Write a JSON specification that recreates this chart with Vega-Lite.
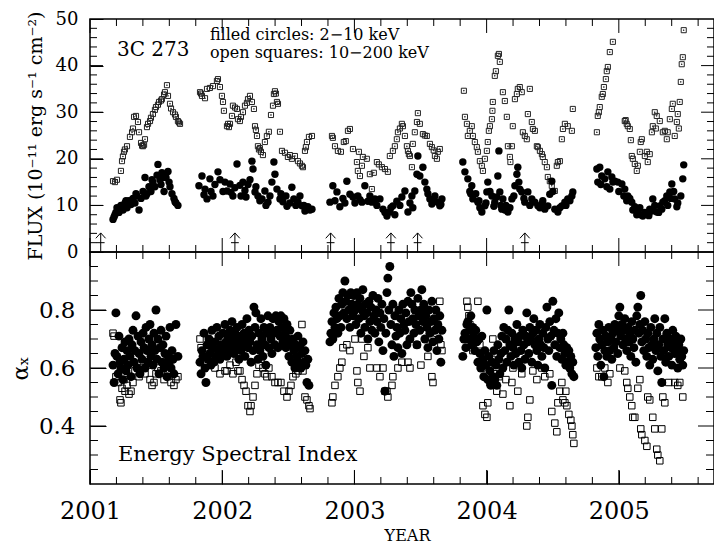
{
  "$schema": "https://vega.github.io/schema/vega-lite/v6.json",
  "padding": {"left": 8, "top": 9, "right": 0, "bottom": 0},
  "config": {
    "font": "DejaVu Serif",
    "view": {"stroke": "black", "strokeWidth": 1.5},
    "axis": {"grid": false, "domain": false, "tickColor": "black", "tickWidth": 1, "labelColor": "black", "titleColor": "black", "titleFontWeight": "normal", "labelFlush": false}
  },
  "datasets": {
    "xmaj": [{"t":2001},{"t":2002},{"t":2003},{"t":2004},{"t":2005}],
    "xmin": [{"t":2001.2},{"t":2001.4},{"t":2001.6},{"t":2001.8},{"t":2002.2},{"t":2002.4},{"t":2002.6},{"t":2002.8},{"t":2003.2},{"t":2003.4},{"t":2003.6},{"t":2003.8},{"t":2004.2},{"t":2004.4},{"t":2004.6},{"t":2004.8},{"t":2005.2},{"t":2005.4},{"t":2005.6}],
    "fmaj": [{"v":10},{"v":20},{"v":30},{"v":40}],
    "fmin": [{"v":2},{"v":4},{"v":6},{"v":8},{"v":12},{"v":14},{"v":16},{"v":18},{"v":22},{"v":24},{"v":26},{"v":28},{"v":32},{"v":34},{"v":36},{"v":38},{"v":42},{"v":44},{"v":46},{"v":48}],
    "amaj": [{"v":0.4},{"v":0.6},{"v":0.8}],
    "amin": [{"v":0.25},{"v":0.3},{"v":0.35},{"v":0.45},{"v":0.5},{"v":0.55},{"v":0.65},{"v":0.7},{"v":0.75},{"v":0.85},{"v":0.9},{"v":0.95}],
    "arrows": [{"t":2001.081},{"t":2002.096},{"t":2002.820},{"t":2003.276},{"t":2003.478},{"t":2004.289}],
    "soft_flux": [
      {"t":2001.174,"v":7.0},{"t":2001.182,"v":7.5},{"t":2001.189,"v":8.0},{"t":2001.196,"v":8.5},{"t":2001.204,"v":9.5},{"t":2001.219,"v":8.5},{"t":2001.227,"v":9.0},{"t":2001.234,"v":10.0},{"t":2001.250,"v":9.0},{"t":2001.265,"v":10.5},{"t":2001.272,"v":11.0},{"t":2001.280,"v":9.5},{"t":2001.295,"v":11.0},{"t":2001.310,"v":10.2},{"t":2001.325,"v":11.5},{"t":2001.340,"v":10.5},{"t":2001.348,"v":12.5},{"t":2001.355,"v":12.0},{"t":2001.371,"v":9.0},{"t":2001.386,"v":11.5},{"t":2001.401,"v":13.0},{"t":2001.416,"v":16.0},{"t":2001.423,"v":12.0},{"t":2001.431,"v":12.5},{"t":2001.446,"v":14.0},{"t":2001.461,"v":13.0},{"t":2001.469,"v":15.5},{"t":2001.476,"v":15.0},{"t":2001.491,"v":14.0},{"t":2001.507,"v":16.5},{"t":2001.514,"v":18.8},{"t":2001.529,"v":15.5},{"t":2001.537,"v":14.5},{"t":2001.544,"v":17.0},{"t":2001.552,"v":16.0},{"t":2001.560,"v":13.0},{"t":2001.575,"v":16.0},{"t":2001.590,"v":17.3},{"t":2001.598,"v":15.0},{"t":2001.605,"v":14.0},{"t":2001.620,"v":12.5},{"t":2001.635,"v":11.5},{"t":2001.643,"v":10.8},{"t":2001.650,"v":10.5},{"t":2001.665,"v":10.0},
      {"t":2001.824,"v":14.2},{"t":2001.847,"v":16.3},{"t":2001.862,"v":12.3},{"t":2001.870,"v":13.5},{"t":2001.885,"v":11.4},{"t":2001.907,"v":15.7},{"t":2001.915,"v":13.0},{"t":2001.930,"v":12.0},{"t":2001.945,"v":14.5},{"t":2001.968,"v":17.2},{"t":2001.983,"v":15.5},{"t":2002.006,"v":13.0},{"t":2002.021,"v":15.0},{"t":2002.036,"v":13.1},{"t":2002.059,"v":14.6},{"t":2002.066,"v":12.8},{"t":2002.081,"v":12.0},{"t":2002.096,"v":13.8},{"t":2002.112,"v":18.9},{"t":2002.134,"v":14.3},{"t":2002.142,"v":12.0},{"t":2002.157,"v":15.0},{"t":2002.172,"v":13.2},{"t":2002.180,"v":11.8},{"t":2002.195,"v":14.5},{"t":2002.210,"v":15.5},{"t":2002.225,"v":19.5},{"t":2002.233,"v":17.8},{"t":2002.248,"v":12.9},{"t":2002.255,"v":14.0},{"t":2002.270,"v":12.0},{"t":2002.285,"v":11.0},{"t":2002.301,"v":11.4},{"t":2002.323,"v":13.1},{"t":2002.331,"v":10.0},{"t":2002.346,"v":10.7},{"t":2002.361,"v":12.0},{"t":2002.376,"v":15.0},{"t":2002.391,"v":19.3},{"t":2002.399,"v":16.7},{"t":2002.414,"v":13.5},{"t":2002.437,"v":11.4},{"t":2002.444,"v":12.5},{"t":2002.459,"v":10.8},{"t":2002.482,"v":12.0},{"t":2002.490,"v":9.8},{"t":2002.512,"v":10.5},{"t":2002.527,"v":13.9},{"t":2002.542,"v":11.4},{"t":2002.557,"v":10.0},{"t":2002.573,"v":10.7},{"t":2002.588,"v":12.0},{"t":2002.603,"v":9.9},{"t":2002.618,"v":10.0},{"t":2002.626,"v":8.8},{"t":2002.648,"v":9.7},{"t":2002.664,"v":9.0},{"t":2002.679,"v":9.2},
      {"t":2002.815,"v":10.7},{"t":2002.837,"v":14.2},{"t":2002.853,"v":11.0},{"t":2002.868,"v":12.9},{"t":2002.890,"v":9.7},{"t":2002.913,"v":11.5},{"t":2002.928,"v":10.5},{"t":2002.943,"v":15.2},{"t":2002.966,"v":12.4},{"t":2002.989,"v":11.8},{"t":2003.004,"v":10.5},{"t":2003.026,"v":12.0},{"t":2003.042,"v":11.2},{"t":2003.057,"v":10.7},{"t":2003.079,"v":14.2},{"t":2003.102,"v":10.9},{"t":2003.117,"v":12.0},{"t":2003.132,"v":10.7},{"t":2003.155,"v":11.4},{"t":2003.170,"v":10.0},{"t":2003.193,"v":11.4},{"t":2003.216,"v":9.2},{"t":2003.231,"v":8.5},{"t":2003.246,"v":7.7},{"t":2003.268,"v":8.6},{"t":2003.276,"v":9.5},{"t":2003.291,"v":9.9},{"t":2003.306,"v":8.0},{"t":2003.321,"v":10.9},{"t":2003.344,"v":10.0},{"t":2003.359,"v":11.8},{"t":2003.382,"v":13.1},{"t":2003.405,"v":8.6},{"t":2003.420,"v":10.5},{"t":2003.435,"v":12.0},{"t":2003.442,"v":9.5},{"t":2003.457,"v":13.1},{"t":2003.473,"v":16.7},{"t":2003.480,"v":20.6},{"t":2003.495,"v":16.3},{"t":2003.518,"v":18.2},{"t":2003.533,"v":15.0},{"t":2003.548,"v":13.5},{"t":2003.556,"v":12.5},{"t":2003.571,"v":11.4},{"t":2003.586,"v":10.3},{"t":2003.600,"v":11.0},{"t":2003.609,"v":12.0},{"t":2003.631,"v":10.7},{"t":2003.646,"v":9.9},{"t":2003.654,"v":10.2},{"t":2003.662,"v":11.4},
      {"t":2003.820,"v":19.3},{"t":2003.836,"v":17.2},{"t":2003.858,"v":15.7},{"t":2003.873,"v":13.0},{"t":2003.880,"v":12.5},{"t":2003.888,"v":14.2},{"t":2003.896,"v":11.4},{"t":2003.918,"v":12.5},{"t":2003.934,"v":10.7},{"t":2003.942,"v":11.0},{"t":2003.949,"v":9.5},{"t":2003.964,"v":8.6},{"t":2003.987,"v":9.9},{"t":2003.995,"v":10.5},{"t":2004.002,"v":12.9},{"t":2004.009,"v":15.0},{"t":2004.025,"v":13.0},{"t":2004.040,"v":12.0},{"t":2004.055,"v":9.8},{"t":2004.062,"v":10.7},{"t":2004.077,"v":11.8},{"t":2004.085,"v":16.3},{"t":2004.093,"v":21.7},{"t":2004.100,"v":12.9},{"t":2004.108,"v":10.0},{"t":2004.115,"v":9.2},{"t":2004.123,"v":11.4},{"t":2004.138,"v":9.0},{"t":2004.146,"v":10.0},{"t":2004.161,"v":8.6},{"t":2004.176,"v":9.5},{"t":2004.191,"v":11.4},{"t":2004.206,"v":12.0},{"t":2004.214,"v":14.2},{"t":2004.229,"v":16.7},{"t":2004.236,"v":18.2},{"t":2004.244,"v":15.0},{"t":2004.251,"v":13.5},{"t":2004.266,"v":12.9},{"t":2004.282,"v":11.5},{"t":2004.289,"v":10.7},{"t":2004.312,"v":12.9},{"t":2004.327,"v":10.0},{"t":2004.342,"v":11.4},{"t":2004.365,"v":10.7},{"t":2004.388,"v":9.9},{"t":2004.403,"v":9.5},{"t":2004.418,"v":10.3},{"t":2004.425,"v":11.0},{"t":2004.440,"v":9.2},{"t":2004.463,"v":9.9},{"t":2004.478,"v":12.4},{"t":2004.493,"v":15.2},{"t":2004.501,"v":13.0},{"t":2004.516,"v":9.2},{"t":2004.539,"v":8.6},{"t":2004.554,"v":9.5},{"t":2004.569,"v":9.9},{"t":2004.592,"v":10.7},{"t":2004.600,"v":10.0},{"t":2004.614,"v":11.4},{"t":2004.630,"v":11.0},{"t":2004.645,"v":12.0},{"t":2004.652,"v":12.9},
      {"t":2004.834,"v":17.8},{"t":2004.841,"v":15.0},{"t":2004.856,"v":18.2},{"t":2004.864,"v":14.5},{"t":2004.871,"v":16.3},{"t":2004.894,"v":15.7},{"t":2004.909,"v":14.0},{"t":2004.917,"v":17.2},{"t":2004.932,"v":13.5},{"t":2004.947,"v":16.1},{"t":2004.955,"v":15.0},{"t":2004.970,"v":15.2},{"t":2004.992,"v":15.0},{"t":2005.000,"v":13.0},{"t":2005.023,"v":14.6},{"t":2005.038,"v":12.0},{"t":2005.045,"v":13.5},{"t":2005.060,"v":11.0},{"t":2005.068,"v":12.0},{"t":2005.083,"v":11.5},{"t":2005.098,"v":10.7},{"t":2005.106,"v":9.0},{"t":2005.121,"v":9.7},{"t":2005.136,"v":8.0},{"t":2005.144,"v":8.6},{"t":2005.159,"v":9.5},{"t":2005.166,"v":8.0},{"t":2005.181,"v":7.7},{"t":2005.197,"v":8.5},{"t":2005.212,"v":8.2},{"t":2005.227,"v":7.8},{"t":2005.234,"v":9.2},{"t":2005.250,"v":8.8},{"t":2005.257,"v":11.4},{"t":2005.272,"v":10.0},{"t":2005.287,"v":8.6},{"t":2005.302,"v":8.5},{"t":2005.310,"v":9.9},{"t":2005.325,"v":9.2},{"t":2005.333,"v":10.7},{"t":2005.348,"v":11.0},{"t":2005.363,"v":12.0},{"t":2005.370,"v":10.0},{"t":2005.386,"v":12.9},{"t":2005.393,"v":11.5},{"t":2005.401,"v":14.6},{"t":2005.415,"v":13.0},{"t":2005.423,"v":11.4},{"t":2005.439,"v":9.7},{"t":2005.446,"v":10.5},{"t":2005.469,"v":12.0},{"t":2005.484,"v":15.7},{"t":2005.491,"v":18.7}
    ],
    "hard_flux": [
      {"t":2001.174,"v":15.2},{"t":2001.189,"v":15.0},{"t":2001.204,"v":15.5},{"t":2001.234,"v":17.4},{"t":2001.242,"v":19.5},{"t":2001.249,"v":20.5},{"t":2001.257,"v":21.5},{"t":2001.264,"v":22.0},{"t":2001.280,"v":22.7},{"t":2001.302,"v":24.7},{"t":2001.318,"v":25.7},{"t":2001.325,"v":26.5},{"t":2001.333,"v":29.0},{"t":2001.348,"v":29.2},{"t":2001.363,"v":27.9},{"t":2001.371,"v":25.7},{"t":2001.386,"v":23.4},{"t":2001.394,"v":22.8},{"t":2001.401,"v":22.7},{"t":2001.409,"v":23.0},{"t":2001.416,"v":24.2},{"t":2001.431,"v":26.8},{"t":2001.439,"v":27.5},{"t":2001.454,"v":28.1},{"t":2001.461,"v":28.8},{"t":2001.476,"v":29.6},{"t":2001.491,"v":30.5},{"t":2001.499,"v":31.1},{"t":2001.514,"v":31.6},{"t":2001.522,"v":32.2},{"t":2001.537,"v":32.5},{"t":2001.544,"v":32.8},{"t":2001.560,"v":33.8},{"t":2001.567,"v":34.3},{"t":2001.582,"v":35.8},{"t":2001.590,"v":33.5},{"t":2001.605,"v":31.8},{"t":2001.613,"v":30.8},{"t":2001.628,"v":30.0},{"t":2001.643,"v":29.5},{"t":2001.650,"v":29.0},{"t":2001.665,"v":28.1},{"t":2001.673,"v":27.8},{"t":2001.681,"v":27.5},
      {"t":2001.832,"v":34.3},{"t":2001.840,"v":34.0},{"t":2001.847,"v":33.5},{"t":2001.870,"v":33.0},{"t":2001.885,"v":35.0},{"t":2001.907,"v":35.2},{"t":2001.930,"v":35.6},{"t":2001.960,"v":36.7},{"t":2001.968,"v":37.1},{"t":2001.983,"v":35.4},{"t":2001.998,"v":33.5},{"t":2002.006,"v":32.2},{"t":2002.013,"v":30.3},{"t":2002.036,"v":27.0},{"t":2002.044,"v":27.5},{"t":2002.051,"v":26.8},{"t":2002.059,"v":27.5},{"t":2002.074,"v":29.2},{"t":2002.081,"v":31.4},{"t":2002.097,"v":31.0},{"t":2002.112,"v":30.7},{"t":2002.119,"v":28.5},{"t":2002.134,"v":28.1},{"t":2002.142,"v":29.0},{"t":2002.157,"v":30.0},{"t":2002.172,"v":31.4},{"t":2002.187,"v":32.0},{"t":2002.195,"v":32.8},{"t":2002.210,"v":33.5},{"t":2002.225,"v":32.2},{"t":2002.240,"v":30.7},{"t":2002.248,"v":27.0},{"t":2002.255,"v":26.2},{"t":2002.263,"v":24.9},{"t":2002.270,"v":22.7},{"t":2002.278,"v":22.0},{"t":2002.285,"v":22.3},{"t":2002.293,"v":21.5},{"t":2002.308,"v":20.8},{"t":2002.323,"v":23.6},{"t":2002.338,"v":24.9},{"t":2002.353,"v":25.8},{"t":2002.369,"v":29.4},{"t":2002.384,"v":31.4},{"t":2002.391,"v":33.9},{"t":2002.399,"v":34.5},{"t":2002.406,"v":34.0},{"t":2002.414,"v":32.2},{"t":2002.422,"v":31.8},{"t":2002.437,"v":25.8},{"t":2002.452,"v":21.7},{"t":2002.475,"v":21.3},{"t":2002.497,"v":20.4},{"t":2002.512,"v":20.8},{"t":2002.527,"v":20.0},{"t":2002.550,"v":20.6},{"t":2002.573,"v":19.5},{"t":2002.588,"v":19.0},{"t":2002.603,"v":18.5},{"t":2002.611,"v":18.2},{"t":2002.626,"v":21.7},{"t":2002.633,"v":22.5},{"t":2002.641,"v":23.6},{"t":2002.656,"v":24.7},{"t":2002.679,"v":24.9},
      {"t":2002.830,"v":24.9},{"t":2002.837,"v":24.5},{"t":2002.853,"v":22.7},{"t":2002.875,"v":21.7},{"t":2002.898,"v":21.5},{"t":2002.920,"v":23.6},{"t":2002.935,"v":23.8},{"t":2002.951,"v":26.0},{"t":2002.966,"v":26.4},{"t":2002.989,"v":22.1},{"t":2003.019,"v":19.3},{"t":2003.026,"v":17.4},{"t":2003.034,"v":21.5},{"t":2003.042,"v":16.3},{"t":2003.057,"v":18.5},{"t":2003.064,"v":20.4},{"t":2003.094,"v":20.0},{"t":2003.117,"v":16.7},{"t":2003.132,"v":13.5},{"t":2003.147,"v":17.0},{"t":2003.170,"v":19.3},{"t":2003.185,"v":18.8},{"t":2003.208,"v":18.2},{"t":2003.231,"v":17.8},{"t":2003.253,"v":17.2},{"t":2003.268,"v":20.6},{"t":2003.291,"v":21.7},{"t":2003.306,"v":22.7},{"t":2003.321,"v":24.2},{"t":2003.329,"v":25.7},{"t":2003.344,"v":26.5},{"t":2003.359,"v":27.5},{"t":2003.367,"v":27.0},{"t":2003.382,"v":24.9},{"t":2003.397,"v":22.7},{"t":2003.405,"v":21.7},{"t":2003.412,"v":21.0},{"t":2003.420,"v":20.6},{"t":2003.435,"v":18.2},{"t":2003.442,"v":23.2},{"t":2003.457,"v":25.7},{"t":2003.473,"v":27.9},{"t":2003.480,"v":29.8},{"t":2003.495,"v":27.5},{"t":2003.518,"v":25.3},{"t":2003.533,"v":25.0},{"t":2003.548,"v":24.9},{"t":2003.571,"v":23.2},{"t":2003.586,"v":22.5},{"t":2003.600,"v":21.8},{"t":2003.609,"v":20.6},{"t":2003.624,"v":20.0},{"t":2003.631,"v":21.5},{"t":2003.646,"v":22.1},
      {"t":2003.828,"v":34.6},{"t":2003.836,"v":29.0},{"t":2003.851,"v":27.5},{"t":2003.858,"v":24.9},{"t":2003.873,"v":26.0},{"t":2003.888,"v":27.0},{"t":2003.896,"v":24.9},{"t":2003.911,"v":23.6},{"t":2003.926,"v":22.5},{"t":2003.934,"v":21.5},{"t":2003.949,"v":19.5},{"t":2003.964,"v":18.5},{"t":2003.972,"v":17.4},{"t":2003.987,"v":20.0},{"t":2004.002,"v":21.7},{"t":2004.009,"v":23.6},{"t":2004.017,"v":26.0},{"t":2004.025,"v":27.0},{"t":2004.040,"v":28.5},{"t":2004.044,"v":30.3},{"t":2004.047,"v":32.2},{"t":2004.062,"v":37.8},{"t":2004.070,"v":38.8},{"t":2004.085,"v":42.1},{"t":2004.093,"v":42.5},{"t":2004.100,"v":40.8},{"t":2004.123,"v":34.3},{"t":2004.138,"v":32.4},{"t":2004.153,"v":29.0},{"t":2004.161,"v":22.7},{"t":2004.176,"v":20.4},{"t":2004.180,"v":19.3},{"t":2004.191,"v":22.7},{"t":2004.198,"v":27.0},{"t":2004.214,"v":32.8},{"t":2004.229,"v":33.9},{"t":2004.236,"v":35.0},{"t":2004.251,"v":35.4},{"t":2004.266,"v":34.3},{"t":2004.274,"v":25.7},{"t":2004.289,"v":24.9},{"t":2004.304,"v":24.2},{"t":2004.312,"v":29.6},{"t":2004.327,"v":35.0},{"t":2004.342,"v":27.9},{"t":2004.350,"v":26.4},{"t":2004.365,"v":26.0},{"t":2004.380,"v":22.7},{"t":2004.388,"v":22.5},{"t":2004.403,"v":21.7},{"t":2004.418,"v":21.0},{"t":2004.425,"v":20.4},{"t":2004.440,"v":19.3},{"t":2004.456,"v":18.2},{"t":2004.463,"v":16.1},{"t":2004.478,"v":15.2},{"t":2004.493,"v":14.2},{"t":2004.516,"v":13.1},{"t":2004.531,"v":18.5},{"t":2004.539,"v":19.3},{"t":2004.554,"v":19.5},{"t":2004.569,"v":24.2},{"t":2004.577,"v":26.4},{"t":2004.592,"v":27.5},{"t":2004.614,"v":27.0},{"t":2004.645,"v":26.0},{"t":2004.652,"v":30.7},
      {"t":2004.834,"v":25.7},{"t":2004.841,"v":29.2},{"t":2004.849,"v":30.0},{"t":2004.856,"v":31.1},{"t":2004.871,"v":33.3},{"t":2004.879,"v":33.9},{"t":2004.887,"v":35.4},{"t":2004.902,"v":37.1},{"t":2004.909,"v":38.8},{"t":2004.917,"v":39.7},{"t":2004.932,"v":42.9},{"t":2004.955,"v":45.1},{"t":2005.045,"v":28.1},{"t":2005.052,"v":28.3},{"t":2005.060,"v":27.5},{"t":2005.068,"v":27.0},{"t":2005.083,"v":26.4},{"t":2005.091,"v":24.0},{"t":2005.098,"v":20.6},{"t":2005.106,"v":20.0},{"t":2005.121,"v":18.9},{"t":2005.136,"v":17.4},{"t":2005.144,"v":18.5},{"t":2005.159,"v":21.5},{"t":2005.166,"v":23.6},{"t":2005.174,"v":24.2},{"t":2005.197,"v":20.6},{"t":2005.212,"v":21.5},{"t":2005.219,"v":19.3},{"t":2005.234,"v":21.0},{"t":2005.250,"v":25.7},{"t":2005.257,"v":27.0},{"t":2005.272,"v":30.0},{"t":2005.280,"v":26.5},{"t":2005.287,"v":29.2},{"t":2005.310,"v":28.1},{"t":2005.333,"v":25.7},{"t":2005.348,"v":26.0},{"t":2005.363,"v":24.2},{"t":2005.370,"v":25.7},{"t":2005.386,"v":28.5},{"t":2005.401,"v":30.7},{"t":2005.408,"v":31.8},{"t":2005.423,"v":24.9},{"t":2005.439,"v":27.9},{"t":2005.446,"v":29.6},{"t":2005.454,"v":26.5},{"t":2005.461,"v":32.2},{"t":2005.469,"v":36.5},{"t":2005.476,"v":40.3},{"t":2005.484,"v":41.8},{"t":2005.491,"v":47.6}
    ],
    "soft_idx": [
      {"t":2001.174,"v":0.61},{"t":2001.182,"v":0.55},{"t":2001.189,"v":0.65},{"t":2001.196,"v":0.79},{"t":2001.204,"v":0.64},{"t":2001.212,"v":0.58},{"t":2001.219,"v":0.71},{"t":2001.227,"v":0.62},{"t":2001.234,"v":0.60},{"t":2001.242,"v":0.67},{"t":2001.249,"v":0.56},{"t":2001.257,"v":0.63},{"t":2001.265,"v":0.69},{"t":2001.272,"v":0.59},{"t":2001.280,"v":0.66},{"t":2001.287,"v":0.61},{"t":2001.295,"v":0.70},{"t":2001.302,"v":0.64},{"t":2001.310,"v":0.57},{"t":2001.318,"v":0.68},{"t":2001.325,"v":0.73},{"t":2001.333,"v":0.62},{"t":2001.340,"v":0.66},{"t":2001.348,"v":0.78},{"t":2001.355,"v":0.60},{"t":2001.363,"v":0.71},{"t":2001.371,"v":0.65},{"t":2001.378,"v":0.58},{"t":2001.386,"v":0.69},{"t":2001.394,"v":0.63},{"t":2001.401,"v":0.72},{"t":2001.409,"v":0.67},{"t":2001.416,"v":0.60},{"t":2001.424,"v":0.74},{"t":2001.431,"v":0.66},{"t":2001.439,"v":0.62},{"t":2001.446,"v":0.70},{"t":2001.454,"v":0.75},{"t":2001.461,"v":0.64},{"t":2001.469,"v":0.68},{"t":2001.476,"v":0.61},{"t":2001.484,"v":0.72},{"t":2001.491,"v":0.66},{"t":2001.499,"v":0.80},{"t":2001.507,"v":0.63},{"t":2001.514,"v":0.70},{"t":2001.522,"v":0.58},{"t":2001.529,"v":0.67},{"t":2001.537,"v":0.73},{"t":2001.544,"v":0.62},{"t":2001.552,"v":0.68},{"t":2001.560,"v":0.60},{"t":2001.567,"v":0.65},{"t":2001.575,"v":0.71},{"t":2001.582,"v":0.57},{"t":2001.590,"v":0.64},{"t":2001.598,"v":0.62},{"t":2001.605,"v":0.74},{"t":2001.613,"v":0.60},{"t":2001.620,"v":0.66},{"t":2001.628,"v":0.63},{"t":2001.635,"v":0.58},{"t":2001.650,"v":0.75},{"t":2001.665,"v":0.64},
      {"t":2001.832,"v":0.62},{"t":2001.840,"v":0.58},{"t":2001.847,"v":0.66},{"t":2001.855,"v":0.64},{"t":2001.862,"v":0.72},{"t":2001.870,"v":0.60},{"t":2001.877,"v":0.55},{"t":2001.885,"v":0.68},{"t":2001.892,"v":0.63},{"t":2001.900,"v":0.70},{"t":2001.907,"v":0.65},{"t":2001.915,"v":0.61},{"t":2001.922,"v":0.73},{"t":2001.930,"v":0.67},{"t":2001.937,"v":0.62},{"t":2001.945,"v":0.69},{"t":2001.953,"v":0.64},{"t":2001.960,"v":0.74},{"t":2001.968,"v":0.66},{"t":2001.975,"v":0.71},{"t":2001.983,"v":0.63},{"t":2001.990,"v":0.68},{"t":2001.998,"v":0.65},{"t":2002.006,"v":0.72},{"t":2002.013,"v":0.67},{"t":2002.021,"v":0.75},{"t":2002.028,"v":0.69},{"t":2002.036,"v":0.64},{"t":2002.044,"v":0.71},{"t":2002.051,"v":0.66},{"t":2002.059,"v":0.73},{"t":2002.066,"v":0.68},{"t":2002.074,"v":0.76},{"t":2002.081,"v":0.70},{"t":2002.089,"v":0.65},{"t":2002.097,"v":0.72},{"t":2002.104,"v":0.67},{"t":2002.112,"v":0.74},{"t":2002.119,"v":0.69},{"t":2002.127,"v":0.63},{"t":2002.134,"v":0.71},{"t":2002.142,"v":0.66},{"t":2002.150,"v":0.75},{"t":2002.157,"v":0.68},{"t":2002.165,"v":0.72},{"t":2002.172,"v":0.64},{"t":2002.180,"v":0.70},{"t":2002.187,"v":0.77},{"t":2002.195,"v":0.67},{"t":2002.202,"v":0.73},{"t":2002.210,"v":0.69},{"t":2002.218,"v":0.62},{"t":2002.225,"v":0.71},{"t":2002.233,"v":0.66},{"t":2002.240,"v":0.81},{"t":2002.248,"v":0.74},{"t":2002.255,"v":0.79},{"t":2002.263,"v":0.68},{"t":2002.270,"v":0.63},{"t":2002.278,"v":0.72},{"t":2002.285,"v":0.66},{"t":2002.293,"v":0.77},{"t":2002.301,"v":0.70},{"t":2002.308,"v":0.64},{"t":2002.316,"v":0.74},{"t":2002.323,"v":0.68},{"t":2002.331,"v":0.61},{"t":2002.338,"v":0.72},{"t":2002.346,"v":0.78},{"t":2002.353,"v":0.67},{"t":2002.361,"v":0.74},{"t":2002.369,"v":0.70},{"t":2002.376,"v":0.65},{"t":2002.384,"v":0.77},{"t":2002.391,"v":0.72},{"t":2002.399,"v":0.68},{"t":2002.406,"v":0.78},{"t":2002.414,"v":0.73},{"t":2002.422,"v":0.67},{"t":2002.429,"v":0.76},{"t":2002.437,"v":0.71},{"t":2002.444,"v":0.78},{"t":2002.452,"v":0.74},{"t":2002.459,"v":0.69},{"t":2002.467,"v":0.77},{"t":2002.475,"v":0.72},{"t":2002.482,"v":0.67},{"t":2002.490,"v":0.75},{"t":2002.497,"v":0.70},{"t":2002.505,"v":0.64},{"t":2002.512,"v":0.73},{"t":2002.520,"v":0.68},{"t":2002.527,"v":0.62},{"t":2002.535,"v":0.70},{"t":2002.542,"v":0.66},{"t":2002.550,"v":0.60},{"t":2002.557,"v":0.68},{"t":2002.565,"v":0.64},{"t":2002.573,"v":0.71},{"t":2002.580,"v":0.62},{"t":2002.588,"v":0.67},{"t":2002.595,"v":0.60},{"t":2002.603,"v":0.65},{"t":2002.611,"v":0.69},{"t":2002.618,"v":0.62},{"t":2002.626,"v":0.66},{"t":2002.633,"v":0.61},{"t":2002.641,"v":0.55},{"t":2002.648,"v":0.63},{"t":2002.656,"v":0.54},
      {"t":2002.815,"v":0.69},{"t":2002.822,"v":0.72},{"t":2002.830,"v":0.76},{"t":2002.837,"v":0.70},{"t":2002.845,"v":0.79},{"t":2002.853,"v":0.74},{"t":2002.860,"v":0.81},{"t":2002.868,"v":0.77},{"t":2002.875,"v":0.72},{"t":2002.883,"v":0.84},{"t":2002.890,"v":0.78},{"t":2002.898,"v":0.74},{"t":2002.905,"v":0.82},{"t":2002.913,"v":0.86},{"t":2002.920,"v":0.79},{"t":2002.928,"v":0.90},{"t":2002.935,"v":0.83},{"t":2002.943,"v":0.77},{"t":2002.951,"v":0.85},{"t":2002.958,"v":0.80},{"t":2002.966,"v":0.74},{"t":2002.973,"v":0.86},{"t":2002.981,"v":0.82},{"t":2002.989,"v":0.78},{"t":2002.996,"v":0.85},{"t":2003.004,"v":0.80},{"t":2003.011,"v":0.75},{"t":2003.019,"v":0.86},{"t":2003.026,"v":0.82},{"t":2003.034,"v":0.77},{"t":2003.042,"v":0.84},{"t":2003.049,"v":0.72},{"t":2003.057,"v":0.80},{"t":2003.064,"v":0.87},{"t":2003.072,"v":0.78},{"t":2003.079,"v":0.74},{"t":2003.087,"v":0.82},{"t":2003.094,"v":0.79},{"t":2003.102,"v":0.70},{"t":2003.110,"v":0.83},{"t":2003.117,"v":0.76},{"t":2003.125,"v":0.81},{"t":2003.132,"v":0.73},{"t":2003.140,"v":0.85},{"t":2003.147,"v":0.78},{"t":2003.155,"v":0.72},{"t":2003.163,"v":0.80},{"t":2003.170,"v":0.76},{"t":2003.178,"v":0.84},{"t":2003.185,"v":0.69},{"t":2003.193,"v":0.79},{"t":2003.200,"v":0.74},{"t":2003.208,"v":0.82},{"t":2003.216,"v":0.66},{"t":2003.223,"v":0.77},{"t":2003.231,"v":0.52},{"t":2003.238,"v":0.72},{"t":2003.246,"v":0.86},{"t":2003.253,"v":0.91},{"t":2003.261,"v":0.80},{"t":2003.268,"v":0.95},{"t":2003.276,"v":0.75},{"t":2003.284,"v":0.68},{"t":2003.291,"v":0.82},{"t":2003.299,"v":0.64},{"t":2003.306,"v":0.78},{"t":2003.314,"v":0.71},{"t":2003.321,"v":0.74},{"t":2003.329,"v":0.67},{"t":2003.336,"v":0.80},{"t":2003.344,"v":0.72},{"t":2003.351,"v":0.77},{"t":2003.359,"v":0.65},{"t":2003.367,"v":0.82},{"t":2003.374,"v":0.75},{"t":2003.382,"v":0.73},{"t":2003.389,"v":0.79},{"t":2003.397,"v":0.68},{"t":2003.405,"v":0.83},{"t":2003.412,"v":0.76},{"t":2003.420,"v":0.70},{"t":2003.427,"v":0.86},{"t":2003.435,"v":0.82},{"t":2003.442,"v":0.77},{"t":2003.450,"v":0.72},{"t":2003.457,"v":0.80},{"t":2003.465,"v":0.75},{"t":2003.473,"v":0.68},{"t":2003.480,"v":0.84},{"t":2003.488,"v":0.78},{"t":2003.495,"v":0.73},{"t":2003.503,"v":0.80},{"t":2003.510,"v":0.87},{"t":2003.518,"v":0.76},{"t":2003.525,"v":0.82},{"t":2003.533,"v":0.70},{"t":2003.540,"v":0.78},{"t":2003.548,"v":0.74},{"t":2003.556,"v":0.67},{"t":2003.563,"v":0.80},{"t":2003.571,"v":0.72},{"t":2003.578,"v":0.76},{"t":2003.586,"v":0.83},{"t":2003.594,"v":0.69},{"t":2003.601,"v":0.77},{"t":2003.609,"v":0.73},{"t":2003.616,"v":0.80},{"t":2003.624,"v":0.66},{"t":2003.631,"v":0.75},{"t":2003.639,"v":0.70},{"t":2003.646,"v":0.78},{"t":2003.654,"v":0.62},{"t":2003.662,"v":0.73},
      {"t":2003.820,"v":0.64},{"t":2003.828,"v":0.70},{"t":2003.836,"v":0.72},{"t":2003.843,"v":0.67},{"t":2003.851,"v":0.75},{"t":2003.858,"v":0.76},{"t":2003.866,"v":0.70},{"t":2003.873,"v":0.73},{"t":2003.881,"v":0.78},{"t":2003.888,"v":0.68},{"t":2003.896,"v":0.74},{"t":2003.903,"v":0.71},{"t":2003.911,"v":0.66},{"t":2003.918,"v":0.73},{"t":2003.926,"v":0.69},{"t":2003.934,"v":0.62},{"t":2003.941,"v":0.70},{"t":2003.949,"v":0.65},{"t":2003.956,"v":0.60},{"t":2003.964,"v":0.71},{"t":2003.972,"v":0.63},{"t":2003.979,"v":0.57},{"t":2003.987,"v":0.66},{"t":2003.994,"v":0.61},{"t":2004.002,"v":0.80},{"t":2004.009,"v":0.56},{"t":2004.017,"v":0.64},{"t":2004.025,"v":0.59},{"t":2004.032,"v":0.54},{"t":2004.040,"v":0.62},{"t":2004.047,"v":0.57},{"t":2004.055,"v":0.66},{"t":2004.062,"v":0.56},{"t":2004.070,"v":0.61},{"t":2004.077,"v":0.54},{"t":2004.085,"v":0.68},{"t":2004.093,"v":0.63},{"t":2004.100,"v":0.58},{"t":2004.108,"v":0.65},{"t":2004.115,"v":0.71},{"t":2004.123,"v":0.60},{"t":2004.130,"v":0.74},{"t":2004.138,"v":0.66},{"t":2004.146,"v":0.70},{"t":2004.153,"v":0.62},{"t":2004.161,"v":0.73},{"t":2004.168,"v":0.80},{"t":2004.176,"v":0.68},{"t":2004.184,"v":0.64},{"t":2004.191,"v":0.72},{"t":2004.199,"v":0.67},{"t":2004.206,"v":0.61},{"t":2004.214,"v":0.70},{"t":2004.221,"v":0.65},{"t":2004.229,"v":0.75},{"t":2004.236,"v":0.69},{"t":2004.244,"v":0.62},{"t":2004.251,"v":0.71},{"t":2004.259,"v":0.66},{"t":2004.266,"v":0.60},{"t":2004.274,"v":0.73},{"t":2004.282,"v":0.68},{"t":2004.289,"v":0.63},{"t":2004.297,"v":0.71},{"t":2004.304,"v":0.79},{"t":2004.312,"v":0.69},{"t":2004.319,"v":0.65},{"t":2004.327,"v":0.74},{"t":2004.334,"v":0.70},{"t":2004.342,"v":0.62},{"t":2004.350,"v":0.72},{"t":2004.357,"v":0.77},{"t":2004.365,"v":0.68},{"t":2004.372,"v":0.73},{"t":2004.380,"v":0.66},{"t":2004.388,"v":0.61},{"t":2004.395,"v":0.70},{"t":2004.403,"v":0.75},{"t":2004.410,"v":0.68},{"t":2004.418,"v":0.64},{"t":2004.425,"v":0.72},{"t":2004.433,"v":0.67},{"t":2004.440,"v":0.60},{"t":2004.448,"v":0.74},{"t":2004.456,"v":0.81},{"t":2004.463,"v":0.70},{"t":2004.471,"v":0.66},{"t":2004.478,"v":0.76},{"t":2004.486,"v":0.71},{"t":2004.493,"v":0.54},{"t":2004.501,"v":0.83},{"t":2004.509,"v":0.73},{"t":2004.516,"v":0.68},{"t":2004.524,"v":0.77},{"t":2004.531,"v":0.64},{"t":2004.539,"v":0.72},{"t":2004.546,"v":0.79},{"t":2004.554,"v":0.67},{"t":2004.561,"v":0.70},{"t":2004.569,"v":0.63},{"t":2004.577,"v":0.72},{"t":2004.584,"v":0.68},{"t":2004.592,"v":0.65},{"t":2004.599,"v":0.61},{"t":2004.607,"v":0.67},{"t":2004.614,"v":0.62},{"t":2004.622,"v":0.66},{"t":2004.629,"v":0.60},{"t":2004.637,"v":0.64},{"t":2004.645,"v":0.58},{"t":2004.652,"v":0.62},{"t":2004.660,"v":0.57},
      {"t":2004.826,"v":0.67},{"t":2004.834,"v":0.72},{"t":2004.841,"v":0.64},{"t":2004.849,"v":0.75},{"t":2004.856,"v":0.70},{"t":2004.864,"v":0.61},{"t":2004.871,"v":0.68},{"t":2004.879,"v":0.73},{"t":2004.887,"v":0.57},{"t":2004.894,"v":0.66},{"t":2004.902,"v":0.71},{"t":2004.909,"v":0.64},{"t":2004.917,"v":0.69},{"t":2004.924,"v":0.74},{"t":2004.932,"v":0.66},{"t":2004.940,"v":0.70},{"t":2004.947,"v":0.63},{"t":2004.955,"v":0.72},{"t":2004.962,"v":0.67},{"t":2004.970,"v":0.75},{"t":2004.977,"v":0.69},{"t":2004.985,"v":0.73},{"t":2004.992,"v":0.65},{"t":2005.000,"v":0.78},{"t":2005.008,"v":0.81},{"t":2005.015,"v":0.71},{"t":2005.023,"v":0.75},{"t":2005.030,"v":0.68},{"t":2005.038,"v":0.73},{"t":2005.045,"v":0.77},{"t":2005.053,"v":0.70},{"t":2005.060,"v":0.66},{"t":2005.068,"v":0.74},{"t":2005.076,"v":0.69},{"t":2005.083,"v":0.72},{"t":2005.091,"v":0.64},{"t":2005.098,"v":0.76},{"t":2005.106,"v":0.70},{"t":2005.114,"v":0.67},{"t":2005.121,"v":0.73},{"t":2005.129,"v":0.62},{"t":2005.136,"v":0.78},{"t":2005.144,"v":0.81},{"t":2005.151,"v":0.72},{"t":2005.159,"v":0.75},{"t":2005.166,"v":0.85},{"t":2005.174,"v":0.69},{"t":2005.181,"v":0.73},{"t":2005.189,"v":0.66},{"t":2005.197,"v":0.76},{"t":2005.204,"v":0.70},{"t":2005.212,"v":0.64},{"t":2005.219,"v":0.72},{"t":2005.227,"v":0.67},{"t":2005.234,"v":0.61},{"t":2005.242,"v":0.74},{"t":2005.250,"v":0.68},{"t":2005.257,"v":0.63},{"t":2005.265,"v":0.70},{"t":2005.272,"v":0.77},{"t":2005.280,"v":0.66},{"t":2005.287,"v":0.72},{"t":2005.295,"v":0.59},{"t":2005.302,"v":0.68},{"t":2005.310,"v":0.74},{"t":2005.318,"v":0.64},{"t":2005.325,"v":0.55},{"t":2005.333,"v":0.70},{"t":2005.340,"v":0.66},{"t":2005.348,"v":0.77},{"t":2005.355,"v":0.62},{"t":2005.363,"v":0.72},{"t":2005.370,"v":0.68},{"t":2005.378,"v":0.64},{"t":2005.386,"v":0.70},{"t":2005.393,"v":0.67},{"t":2005.401,"v":0.61},{"t":2005.408,"v":0.73},{"t":2005.416,"v":0.69},{"t":2005.423,"v":0.65},{"t":2005.431,"v":0.71},{"t":2005.439,"v":0.66},{"t":2005.446,"v":0.60},{"t":2005.454,"v":0.68},{"t":2005.461,"v":0.63},{"t":2005.469,"v":0.70},{"t":2005.476,"v":0.64},{"t":2005.484,"v":0.61},{"t":2005.491,"v":0.66}
    ],
    "hard_idx": [
      {"t":2001.174,"v":0.72},{"t":2001.182,"v":0.71},{"t":2001.196,"v":0.57},{"t":2001.212,"v":0.55},{"t":2001.227,"v":0.49},{"t":2001.234,"v":0.48},{"t":2001.242,"v":0.53},{"t":2001.257,"v":0.56},{"t":2001.265,"v":0.52},{"t":2001.280,"v":0.54},{"t":2001.295,"v":0.51},{"t":2001.310,"v":0.52},{"t":2001.325,"v":0.55},{"t":2001.340,"v":0.59},{"t":2001.355,"v":0.61},{"t":2001.371,"v":0.57},{"t":2001.394,"v":0.60},{"t":2001.416,"v":0.58},{"t":2001.439,"v":0.61},{"t":2001.454,"v":0.56},{"t":2001.469,"v":0.54},{"t":2001.484,"v":0.55},{"t":2001.499,"v":0.58},{"t":2001.514,"v":0.60},{"t":2001.537,"v":0.59},{"t":2001.560,"v":0.56},{"t":2001.590,"v":0.57},{"t":2001.613,"v":0.55},{"t":2001.635,"v":0.54},{"t":2001.650,"v":0.56},{"t":2001.665,"v":0.57},
      {"t":2001.832,"v":0.70},{"t":2001.840,"v":0.67},{"t":2001.870,"v":0.66},{"t":2001.907,"v":0.64},{"t":2001.945,"v":0.60},{"t":2001.983,"v":0.58},{"t":2002.021,"v":0.59},{"t":2002.036,"v":0.59},{"t":2002.059,"v":0.61},{"t":2002.081,"v":0.58},{"t":2002.104,"v":0.62},{"t":2002.119,"v":0.59},{"t":2002.134,"v":0.59},{"t":2002.150,"v":0.56},{"t":2002.165,"v":0.54},{"t":2002.180,"v":0.52},{"t":2002.195,"v":0.47},{"t":2002.210,"v":0.45},{"t":2002.218,"v":0.47},{"t":2002.233,"v":0.50},{"t":2002.248,"v":0.54},{"t":2002.263,"v":0.58},{"t":2002.278,"v":0.61},{"t":2002.293,"v":0.63},{"t":2002.308,"v":0.60},{"t":2002.323,"v":0.58},{"t":2002.338,"v":0.57},{"t":2002.353,"v":0.60},{"t":2002.376,"v":0.57},{"t":2002.399,"v":0.55},{"t":2002.422,"v":0.55},{"t":2002.444,"v":0.55},{"t":2002.467,"v":0.52},{"t":2002.490,"v":0.50},{"t":2002.505,"v":0.52},{"t":2002.520,"v":0.54},{"t":2002.535,"v":0.57},{"t":2002.557,"v":0.58},{"t":2002.573,"v":0.59},{"t":2002.588,"v":0.60},{"t":2002.603,"v":0.75},{"t":2002.611,"v":0.59},{"t":2002.626,"v":0.50},{"t":2002.641,"v":0.49},{"t":2002.656,"v":0.47},{"t":2002.664,"v":0.46},
      {"t":2002.830,"v":0.48},{"t":2002.837,"v":0.50},{"t":2002.853,"v":0.54},{"t":2002.875,"v":0.57},{"t":2002.890,"v":0.60},{"t":2002.905,"v":0.62},{"t":2002.913,"v":0.67},{"t":2002.943,"v":0.68},{"t":2002.966,"v":0.66},{"t":2003.004,"v":0.70},{"t":2003.019,"v":0.59},{"t":2003.026,"v":0.55},{"t":2003.042,"v":0.52},{"t":2003.057,"v":0.70},{"t":2003.072,"v":0.64},{"t":2003.102,"v":0.67},{"t":2003.117,"v":0.60},{"t":2003.170,"v":0.60},{"t":2003.193,"v":0.57},{"t":2003.216,"v":0.60},{"t":2003.231,"v":0.52},{"t":2003.246,"v":0.52},{"t":2003.253,"v":0.50},{"t":2003.284,"v":0.54},{"t":2003.291,"v":0.57},{"t":2003.329,"v":0.60},{"t":2003.359,"v":0.62},{"t":2003.405,"v":0.62},{"t":2003.420,"v":0.60},{"t":2003.473,"v":0.68},{"t":2003.503,"v":0.61},{"t":2003.556,"v":0.64},{"t":2003.586,"v":0.57},{"t":2003.594,"v":0.55},{"t":2003.624,"v":0.72},{"t":2003.646,"v":0.83},{"t":2003.654,"v":0.68},{"t":2003.662,"v":0.66},
      {"t":2003.851,"v":0.83},{"t":2003.858,"v":0.81},{"t":2003.866,"v":0.78},{"t":2003.873,"v":0.75},{"t":2003.888,"v":0.72},{"t":2003.896,"v":0.66},{"t":2003.911,"v":0.69},{"t":2003.934,"v":0.83},{"t":2003.949,"v":0.68},{"t":2003.964,"v":0.60},{"t":2003.972,"v":0.47},{"t":2003.987,"v":0.44},{"t":2004.002,"v":0.43},{"t":2004.009,"v":0.48},{"t":2004.025,"v":0.55},{"t":2004.040,"v":0.63},{"t":2004.047,"v":0.70},{"t":2004.055,"v":0.58},{"t":2004.077,"v":0.52},{"t":2004.093,"v":0.57},{"t":2004.123,"v":0.51},{"t":2004.146,"v":0.56},{"t":2004.176,"v":0.47},{"t":2004.191,"v":0.55},{"t":2004.199,"v":0.60},{"t":2004.236,"v":0.52},{"t":2004.266,"v":0.58},{"t":2004.304,"v":0.40},{"t":2004.312,"v":0.43},{"t":2004.327,"v":0.49},{"t":2004.350,"v":0.59},{"t":2004.380,"v":0.56},{"t":2004.418,"v":0.60},{"t":2004.440,"v":0.57},{"t":2004.478,"v":0.58},{"t":2004.493,"v":0.45},{"t":2004.516,"v":0.41},{"t":2004.531,"v":0.38},{"t":2004.539,"v":0.48},{"t":2004.554,"v":0.52},{"t":2004.569,"v":0.55},{"t":2004.577,"v":0.49},{"t":2004.592,"v":0.48},{"t":2004.599,"v":0.52},{"t":2004.607,"v":0.47},{"t":2004.622,"v":0.44},{"t":2004.637,"v":0.42},{"t":2004.645,"v":0.40},{"t":2004.652,"v":0.37},{"t":2004.660,"v":0.34},
      {"t":2004.834,"v":0.60},{"t":2004.849,"v":0.57},{"t":2004.871,"v":0.57},{"t":2004.894,"v":0.60},{"t":2004.917,"v":0.55},{"t":2004.932,"v":0.58},{"t":2005.008,"v":0.60},{"t":2005.045,"v":0.59},{"t":2005.060,"v":0.55},{"t":2005.068,"v":0.53},{"t":2005.083,"v":0.50},{"t":2005.098,"v":0.47},{"t":2005.106,"v":0.43},{"t":2005.121,"v":0.43},{"t":2005.144,"v":0.53},{"t":2005.159,"v":0.56},{"t":2005.166,"v":0.39},{"t":2005.174,"v":0.37},{"t":2005.197,"v":0.35},{"t":2005.212,"v":0.33},{"t":2005.219,"v":0.50},{"t":2005.234,"v":0.49},{"t":2005.257,"v":0.43},{"t":2005.272,"v":0.39},{"t":2005.287,"v":0.32},{"t":2005.295,"v":0.30},{"t":2005.310,"v":0.28},{"t":2005.325,"v":0.39},{"t":2005.333,"v":0.50},{"t":2005.348,"v":0.48},{"t":2005.378,"v":0.55},{"t":2005.423,"v":0.55},{"t":2005.446,"v":0.54},{"t":2005.461,"v":0.55},{"t":2005.484,"v":0.50}
    ]
  },
  "spacing": 0,
  "bounds": "flush",
  "vconcat": [
    {
      "width": 624,
      "height": 233,
      "resolve": {"axis": {"x": "independent", "y": "independent"}},
      "layer": [
        {
          "data": {"name": "hard_flux"},
          "mark": {"type": "point", "shape": "M-1,-1H1V1H-1Z M-0.12,-0.12H0.12V0.12H-0.12Z", "size": 26, "filled": false, "stroke": "#222", "strokeWidth": 1, "opacity": 1},
          "encoding": {
            "x": {"field": "t", "type": "quantitative", "scale": {"domain": [2001, 2005.72], "nice": false, "zero": false}, "axis": null},
            "y": {"field": "v", "type": "quantitative", "scale": {"domain": [0, 50], "nice": false}, "axis": null}
          }
        },
        {
          "data": {"name": "soft_flux"},
          "mark": {"type": "circle", "size": 55, "color": "black", "opacity": 1},
          "encoding": {
            "x": {"field": "t", "type": "quantitative", "axis": null},
            "y": {"field": "v", "type": "quantitative", "axis": {"orient": "left", "tickSize": -13, "values": [0,10,20,30,40,50], "labelFontSize": 18, "labelPadding": 25, "title": "FLUX (10⁻¹¹ erg s⁻¹ cm⁻²)", "titleFontSize": 19, "titlePadding": 10}}
          }
        },
        {"data": {"name": "xmaj"}, "mark": {"type": "rule", "color": "black", "strokeWidth": 1}, "encoding": {"x": {"field": "t", "type": "quantitative", "axis": null}, "y": {"datum": 0, "type": "quantitative", "axis": null}, "y2": {"datum": 3.0}}},
        {"data": {"name": "xmaj"}, "mark": {"type": "rule", "color": "black", "strokeWidth": 1}, "encoding": {"x": {"field": "t", "type": "quantitative", "axis": null}, "y": {"datum": 50, "type": "quantitative", "axis": null}, "y2": {"datum": 47.0}}},
        {"data": {"name": "xmin"}, "mark": {"type": "rule", "color": "black", "strokeWidth": 1}, "encoding": {"x": {"field": "t", "type": "quantitative", "axis": null}, "y": {"datum": 0, "type": "quantitative", "axis": null}, "y2": {"datum": 1.5}}},
        {"data": {"name": "xmin"}, "mark": {"type": "rule", "color": "black", "strokeWidth": 1}, "encoding": {"x": {"field": "t", "type": "quantitative", "axis": null}, "y": {"datum": 50, "type": "quantitative", "axis": null}, "y2": {"datum": 48.5}}},
        {"data": {"name": "fmaj"}, "mark": {"type": "rule", "color": "black", "strokeWidth": 1}, "encoding": {"y": {"field": "v", "type": "quantitative", "axis": null}, "x": {"datum": 2001, "type": "quantitative", "axis": null}, "x2": {"datum": 2001.098}}},
        {"data": {"name": "fmaj"}, "mark": {"type": "rule", "color": "black", "strokeWidth": 1}, "encoding": {"y": {"field": "v", "type": "quantitative", "axis": null}, "x": {"datum": 2005.72, "type": "quantitative", "axis": null}, "x2": {"datum": 2005.622}}},
        {"data": {"name": "fmin"}, "mark": {"type": "rule", "color": "black", "strokeWidth": 1}, "encoding": {"y": {"field": "v", "type": "quantitative", "axis": null}, "x": {"datum": 2001, "type": "quantitative", "axis": null}, "x2": {"datum": 2001.053}}},
        {"data": {"name": "fmin"}, "mark": {"type": "rule", "color": "black", "strokeWidth": 1}, "encoding": {"y": {"field": "v", "type": "quantitative", "axis": null}, "x": {"datum": 2005.72, "type": "quantitative", "axis": null}, "x2": {"datum": 2005.667}}},
        {
          "data": {"name": "arrows"},
          "mark": {"type": "point", "shape": "M0,1V-1M-0.5,-0.45L0,-1L0.5,-0.45M-0.4,0H0.4", "size": 380, "filled": false, "stroke": "black", "strokeWidth": 1, "opacity": 1},
          "encoding": {
            "x": {"field": "t", "type": "quantitative", "axis": null},
            "y": {"datum": 2, "type": "quantitative", "axis": null}
          }
        },
        {
          "data": {"values": [{}]},
          "mark": {"type": "text", "align": "left", "baseline": "alphabetic", "fontSize": 20, "font": "DejaVu Serif"},
          "encoding": {
            "x": {"datum": 2001.204, "type": "quantitative", "axis": null},
            "y": {"datum": 42.06, "type": "quantitative", "axis": null},
            "text": {"value": "3C 273"}
          }
        },
        {
          "data": {"values": [{}]},
          "mark": {"type": "text", "align": "left", "baseline": "alphabetic", "fontSize": 16, "font": "DejaVu Serif"},
          "encoding": {
            "x": {"datum": 2001.907, "type": "quantitative", "axis": null},
            "y": {"datum": 45.6, "type": "quantitative", "axis": null},
            "text": {"value": "filled circles: 2−10 keV"}
          }
        },
        {
          "data": {"values": [{}]},
          "mark": {"type": "text", "align": "left", "baseline": "alphabetic", "fontSize": 16, "font": "DejaVu Serif"},
          "encoding": {
            "x": {"datum": 2001.907, "type": "quantitative", "axis": null},
            "y": {"datum": 41.7, "type": "quantitative", "axis": null},
            "text": {"value": "open squares: 10−200 keV"}
          }
        }
      ]
    },
    {
      "width": 624,
      "height": 232,
      "resolve": {"axis": {"x": "independent", "y": "independent"}},
      "layer": [
        {
          "data": {"name": "hard_idx"},
          "mark": {"type": "point", "shape": "square", "size": 42, "filled": false, "stroke": "black", "strokeWidth": 1, "opacity": 1},
          "encoding": {
            "x": {"field": "t", "type": "quantitative", "scale": {"domain": [2001, 2005.72], "nice": false, "zero": false}, "axis": null},
            "y": {"field": "v", "type": "quantitative", "scale": {"domain": [0.2, 1.0], "nice": false, "zero": false}, "axis": null}
          }
        },
        {
          "data": {"name": "soft_idx"},
          "mark": {"type": "circle", "size": 80, "color": "black", "opacity": 1},
          "encoding": {
            "x": {"field": "t", "type": "quantitative", "axis": {"orient": "bottom", "tickSize": -14, "values": [2001,2002,2003,2004,2005], "format": "d", "labelFontSize": 24, "labelPadding": 29, "title": "YEAR", "titleFontSize": 16, "titlePadding": 4, "titleX": 317}},
            "y": {"field": "v", "type": "quantitative", "axis": {"orient": "left", "tickSize": -16, "values": [0.4,0.6,0.8], "format": ".1f", "labelFontSize": 23, "labelPadding": 31, "title": "αₓ", "titleFontSize": 22, "titlePadding": 6}}
          }
        },
        {"data": {"name": "xmaj"}, "mark": {"type": "rule", "color": "black", "strokeWidth": 1}, "encoding": {"x": {"field": "t", "type": "quantitative", "axis": null}, "y": {"datum": 0.2, "type": "quantitative", "axis": null}, "y2": {"datum": 0.2483}}},
        {"data": {"name": "xmaj"}, "mark": {"type": "rule", "color": "black", "strokeWidth": 1}, "encoding": {"x": {"field": "t", "type": "quantitative", "axis": null}, "y": {"datum": 1.0, "type": "quantitative", "axis": null}, "y2": {"datum": 0.9517}}},
        {"data": {"name": "xmin"}, "mark": {"type": "rule", "color": "black", "strokeWidth": 1}, "encoding": {"x": {"field": "t", "type": "quantitative", "axis": null}, "y": {"datum": 0.2, "type": "quantitative", "axis": null}, "y2": {"datum": 0.2241}}},
        {"data": {"name": "xmin"}, "mark": {"type": "rule", "color": "black", "strokeWidth": 1}, "encoding": {"x": {"field": "t", "type": "quantitative", "axis": null}, "y": {"datum": 1.0, "type": "quantitative", "axis": null}, "y2": {"datum": 0.9759}}},
        {"data": {"name": "amaj"}, "mark": {"type": "rule", "color": "black", "strokeWidth": 1}, "encoding": {"y": {"field": "v", "type": "quantitative", "axis": null}, "x": {"datum": 2001, "type": "quantitative", "axis": null}, "x2": {"datum": 2001.121}}},
        {"data": {"name": "amaj"}, "mark": {"type": "rule", "color": "black", "strokeWidth": 1}, "encoding": {"y": {"field": "v", "type": "quantitative", "axis": null}, "x": {"datum": 2005.72, "type": "quantitative", "axis": null}, "x2": {"datum": 2005.599}}},
        {"data": {"name": "amin"}, "mark": {"type": "rule", "color": "black", "strokeWidth": 1}, "encoding": {"y": {"field": "v", "type": "quantitative", "axis": null}, "x": {"datum": 2001, "type": "quantitative", "axis": null}, "x2": {"datum": 2001.0605}}},
        {"data": {"name": "amin"}, "mark": {"type": "rule", "color": "black", "strokeWidth": 1}, "encoding": {"y": {"field": "v", "type": "quantitative", "axis": null}, "x": {"datum": 2005.72, "type": "quantitative", "axis": null}, "x2": {"datum": 2005.6595}}},
        {
          "data": {"values": [{}]},
          "mark": {"type": "text", "align": "left", "baseline": "alphabetic", "fontSize": 21, "font": "DejaVu Serif"},
          "encoding": {
            "x": {"datum": 2001.212, "type": "quantitative", "axis": null},
            "y": {"datum": 0.279, "type": "quantitative", "axis": null},
            "text": {"value": "Energy Spectral Index"}
          }
        }
      ]
    }
  ]
}
